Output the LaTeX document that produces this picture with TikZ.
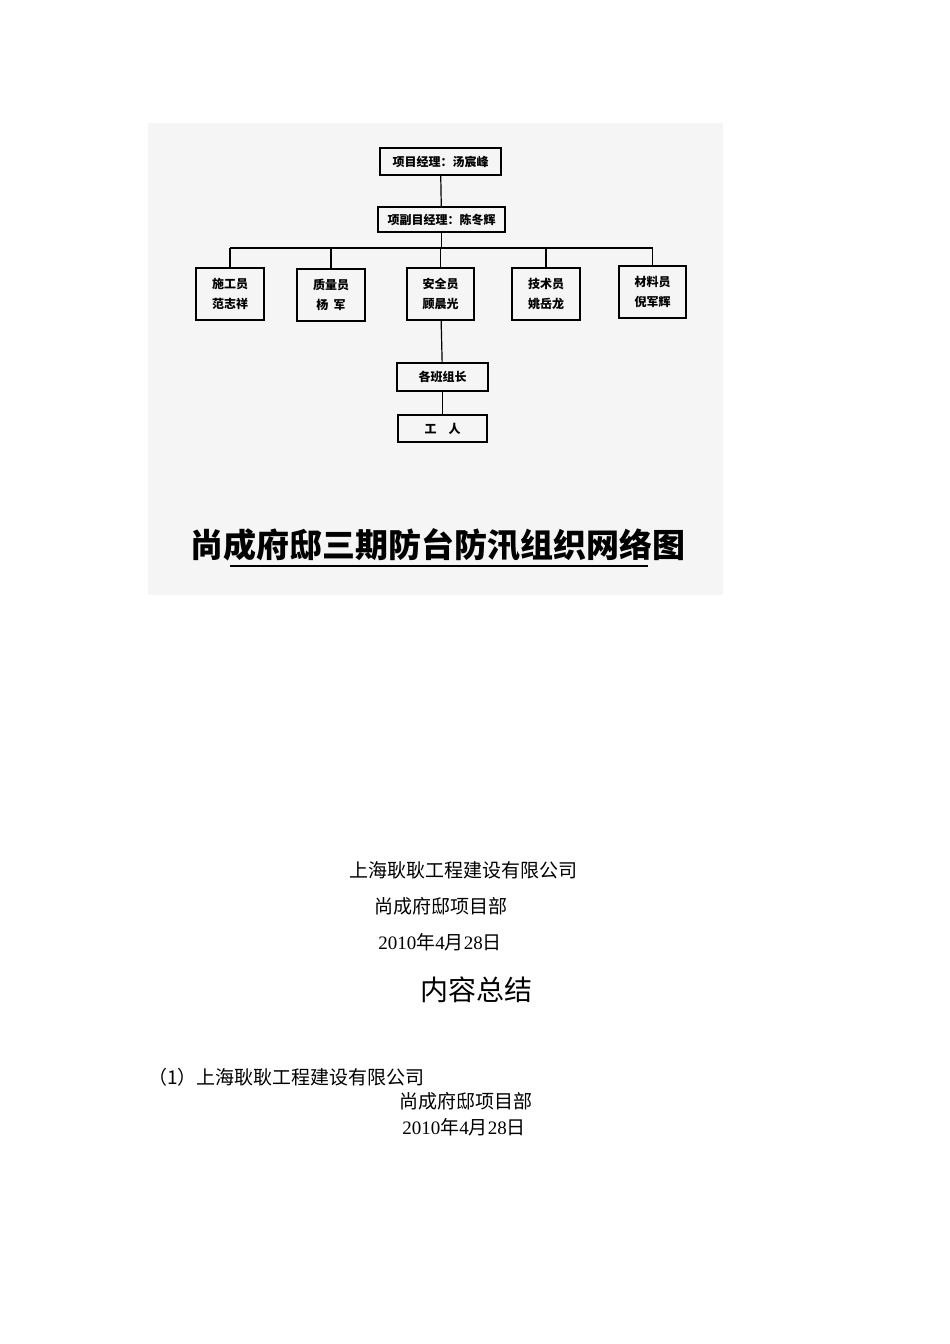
\documentclass[tikz,border=0pt]{standalone}
\usepackage{fontspec}
\setmainfont{Liberation Serif}
\newfontfamily\cjk{Noto Sans CJK SC}
\begin{document}
\begin{tikzpicture}[x=1pt,y=-1pt,
  bx/.style={draw,line width=1.2pt,inner sep=0pt,font=\cjk\bfseries\fontsize{12}{16}\selectfont,align=center},
  ln/.style={line width=1.2pt},
  tx/.style={inner sep=0pt,font=\fontsize{19}{22}\selectfont}]
\useasboundingbox (0,0) rectangle (950,1344);
\fill[gray!8] (148,123) rectangle (723,595);
\node[bx,minimum width=121,minimum height=27] (pm) at (440.5,161.5) {项目经理：汤宸峰};
\node[bx,minimum width=127,minimum height=25] (dpm) at (441.5,219.5) {项副目经理：陈冬辉};
\node[bx,minimum width=68,minimum height=52] (a) at (230,294) {施工员\\[4pt]范志祥};
\node[bx,minimum width=68,minimum height=52] (b) at (331,295) {质量员\\[4pt]杨\ \ 军};
\node[bx,minimum width=67,minimum height=52] (c) at (440.5,294) {安全员\\[4pt]顾晨光};
\node[bx,minimum width=68,minimum height=52] (d) at (546,294) {技术员\\[4pt]姚岳龙};
\node[bx,minimum width=67,minimum height=52] (e) at (652.5,292) {材料员\\[4pt]倪军辉};
\node[bx,minimum width=91,minimum height=28] (f) at (442.5,377) {各班组长};
\node[bx,minimum width=89,minimum height=27] (g) at (442.5,428.5) {工\quad 人};
\coordinate (j) at (441.5,248);
\draw[ln] (pm) -- (dpm);
\draw[ln] (dpm) -- (j);
\foreach \n in {a,b,c,d,e} \draw[ln] (j -| \n) -- (\n.north);
\draw[ln] (j -| a) -- (j -| e);
\draw[ln] (c) -- (f);
\draw[ln] (f) -- (g);
\node[inner sep=0pt,font=\cjk\bfseries\fontsize{33}{36}\selectfont] (t) at (438,545) {尚成府邸三期防台防汛组织网络图};
\draw[line width=1.2pt] (230,566) -- (648,566);
\node[tx] (l1) at (463,870) {\cjk 上海耿耿工程建设有限公司};
\node[tx] (l2) at (441,906) {\cjk 尚成府邸项目部};
\node[tx] (l3) at (440,942) {2010\cjk 年\rmfamily 4\cjk 月\rmfamily 28\cjk 日};
\node[inner sep=0pt,font=\cjk\fontsize{28}{32}\selectfont] (l4) at (476,990) {内容总结};
\node[tx,anchor=west] (l5) at (148,1077) {\cjk （1）上海耿耿工程建设有限公司};
\node[tx] (l6) at (466,1101) {\cjk 尚成府邸项目部};
\node[tx] (l7) at (464,1127) {2010\cjk 年\rmfamily 4\cjk 月\rmfamily 28\cjk 日};
\end{tikzpicture}
\end{document}
